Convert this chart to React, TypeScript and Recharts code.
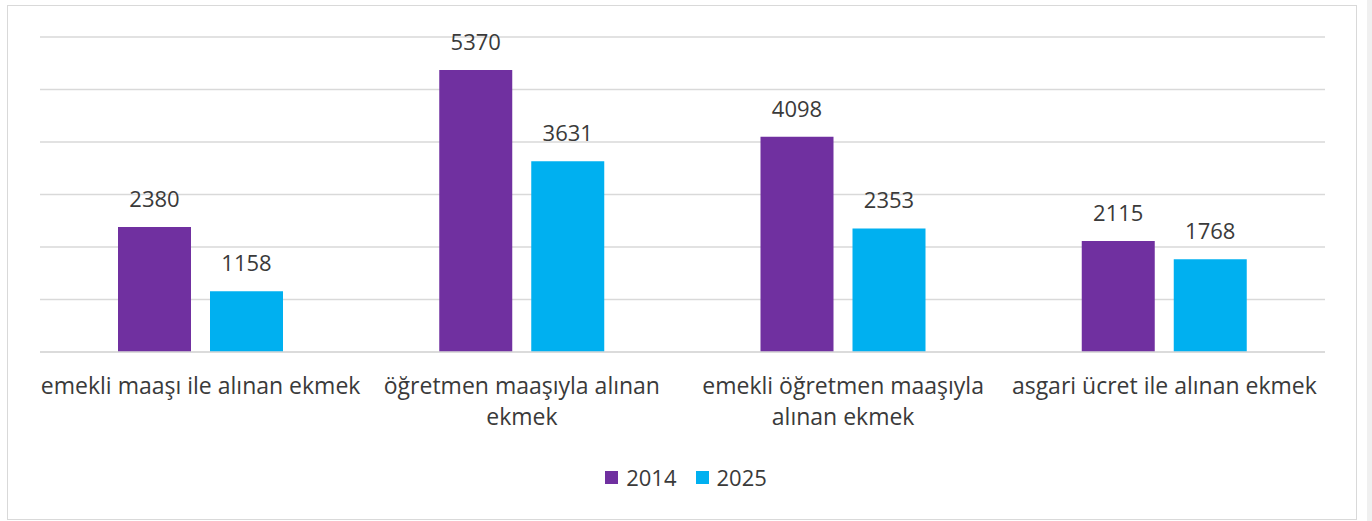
import React from "react";
import { BarChart, Bar, XAxis, YAxis, CartesianGrid, LabelList, Legend } from "recharts";

const categories = [
  "emekli maaşı ile alınan ekmek",
  "öğretmen maaşıyla alınan ekmek",
  "emekli öğretmen maaşıyla alınan ekmek",
  "asgari ücret ile alınan ekmek",
];
const categoryLines: string[][] = [
  ["emekli maaşı ile alınan ekmek"],
  ["öğretmen maaşıyla alınan", "ekmek"],
  ["emekli öğretmen maaşıyla", "alınan ekmek"],
  ["asgari ücret ile alınan ekmek"],
];
const values2014 = [2380, 5370, 4098, 2115];
const values2025 = [1158, 3631, 2353, 1768];
const yTicks = [0, 1000, 2000, 3000, 4000, 5000, 6000];
const seriesNames = ["2014", "2025"];
const seriesColors = ["#7030A0", "#00B0F0"];

const data = categories.map((c, i) => ({
  name: c,
  idx: i,
  s2014: values2014[i],
  s2025: values2025[i],
}));

const FONT = "'Open Sans', 'Liberation Sans', sans-serif";
const TEXT = "#3a3a3a";

const CategoryTick = (props: any) => {
  const { x, y, index } = props;
  const lines = categoryLines[index] || [];
  return (
    <text x={x} y={y} textAnchor="middle" fill={TEXT} fontFamily={FONT} fontSize={23}>
      {lines.map((l, i) => (
        <tspan key={i} x={x} dy={i === 0 ? 42 : 31}>
          {l}
        </tspan>
      ))}
    </text>
  );
};

const LegendContent = () => (
  <div style={{ display: "flex", justifyContent: "center", alignItems: "center", fontFamily: FONT, fontSize: 22, color: TEXT }}>
    {seriesNames.map((n, i) => (
      <div key={n} style={{ display: "flex", alignItems: "center", marginLeft: i === 0 ? 0 : 19 }}>
        <span style={{ width: 13, height: 13, background: seriesColors[i], display: "inline-block", marginRight: 8 }} />
        <span>{n}</span>
      </div>
    ))}
  </div>
);

export default function App() {
  return (
    <div style={{ position: "absolute", left: 0, top: 0, width: 1372, height: 521, background: "#fff", overflow: "hidden" }}>
      <div style={{ position: "absolute", left: 7, top: 5, width: 1350, height: 515, border: "1.5px solid #d9d9d9", boxSizing: "border-box" }} />
      <div style={{ position: "absolute", left: 1367, top: 0, width: 5, height: 521, background: "#f0f0f0" }} />
      <div style={{ position: "absolute", left: 0, top: 0 }}>
        <BarChart
          width={1372}
          height={521}
          data={data}
          margin={{ top: 37, right: 47, left: 40, bottom: 109 }}
          barGap={19}
        >
          <CartesianGrid vertical={false} stroke="#d9d9d9" strokeWidth={1.3} />
          <YAxis hide domain={[0, 6000]} ticks={yTicks} />
          <XAxis
            dataKey="name"
            height={60}
            tickLine={false}
            tickSize={0}
            tickMargin={0}
            axisLine={{ stroke: "#d9d9d9", strokeWidth: 1.3 }}
            tick={<CategoryTick />}
            interval={0}
          />
          <Legend
            verticalAlign="middle"
            align="center"
            content={<LegendContent />}
            wrapperStyle={{ top: 462, left: 0, width: 1372, height: 26 }}
          />
          <Bar dataKey="s2014" name={seriesNames[0]} fill={seriesColors[0]} barSize={73} isAnimationActive={false}>
            <LabelList dataKey="s2014" position="top" offset={20} fill={TEXT} fontFamily={FONT} fontSize={22} />
          </Bar>
          <Bar dataKey="s2025" name={seriesNames[1]} fill={seriesColors[1]} barSize={73} isAnimationActive={false}>
            <LabelList dataKey="s2025" position="top" offset={20} fill={TEXT} fontFamily={FONT} fontSize={22} />
          </Bar>
        </BarChart>
      </div>
    </div>
  );
}
